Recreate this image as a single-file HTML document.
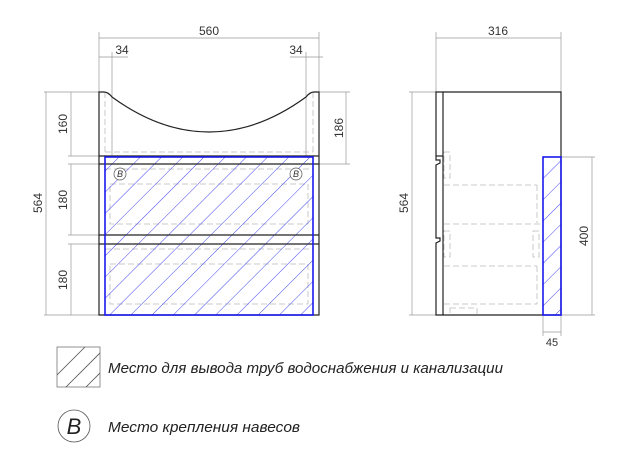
<!DOCTYPE html>
<html><head><meta charset="utf-8"><style>html,body{margin:0;padding:0;background:#fff}svg{display:block}</style></head><body>
<svg width="630" height="470" viewBox="0 0 630 470" xmlns="http://www.w3.org/2000/svg" font-family="Liberation Sans, sans-serif">
<defs>
<pattern id="h" patternUnits="userSpaceOnUse" width="15" height="15" patternTransform="rotate(45)">
<line x1="0" y1="0" x2="0" y2="15" stroke="#3333ee" stroke-width="0.9"/>
</pattern>
<clipPath id="c1"><rect x="57" y="347" width="43" height="40"/></clipPath>
</defs>
<g stroke="#999" stroke-width="0.7" fill="none">
<line x1="99" y1="32" x2="99" y2="92"/><line x1="319" y1="32" x2="319" y2="92"/>
<line x1="99" y1="38" x2="319" y2="38"/>
<line x1="112" y1="52" x2="112" y2="157"/><line x1="306" y1="52" x2="306" y2="157"/>
<line x1="99" y1="57" x2="128" y2="57"/><line x1="290" y1="57" x2="323" y2="57"/>
<line x1="44" y1="92" x2="99" y2="92"/><line x1="44" y1="315" x2="99" y2="315"/>
<line x1="46" y1="92" x2="46" y2="315"/>
<line x1="68" y1="156" x2="99" y2="156"/><line x1="68" y1="164" x2="99" y2="164"/>
<line x1="68" y1="235" x2="99" y2="235"/><line x1="68" y1="244" x2="99" y2="244"/>
<line x1="71" y1="92" x2="71" y2="156"/><line x1="71" y1="164" x2="71" y2="235"/><line x1="71" y1="244" x2="71" y2="315"/>
<line x1="319" y1="92" x2="350" y2="92"/><line x1="319" y1="164" x2="350" y2="164"/>
<line x1="346" y1="92" x2="346" y2="164"/>
<line x1="436" y1="32" x2="436" y2="92"/><line x1="561" y1="32" x2="561" y2="92"/>
<line x1="436" y1="38" x2="561" y2="38"/>
<line x1="409" y1="92" x2="436" y2="92"/><line x1="409" y1="315" x2="436" y2="315"/>
<line x1="412" y1="92" x2="412" y2="315"/>
<line x1="561" y1="157" x2="595" y2="157"/><line x1="561" y1="315" x2="595" y2="315"/>
<line x1="592" y1="157" x2="592" y2="315"/>
<line x1="543" y1="315" x2="543" y2="336"/><line x1="561" y1="315" x2="561" y2="336"/>
<line x1="543" y1="332" x2="561" y2="332"/>
</g>
<g stroke="#bbb" stroke-width="0.8" fill="none" stroke-dasharray="6,3">
<line x1="105" y1="92" x2="105" y2="156"/><line x1="313" y1="92" x2="313" y2="156"/>
<line x1="105" y1="152" x2="313" y2="152"/>
<line x1="105" y1="169" x2="313" y2="169"/>
<rect x="110" y="184" width="198" height="40"/>
<line x1="105" y1="249" x2="313" y2="249"/>
<rect x="110" y="264" width="198" height="40"/>
<rect x="444" y="152" width="6" height="26"/>
<rect x="444" y="231" width="6" height="26"/>
<rect x="533" y="231" width="6" height="26"/>
<line x1="444" y1="185" x2="537" y2="185"/><line x1="537" y1="185" x2="537" y2="223"/>
<line x1="444" y1="224" x2="543" y2="224"/>
<line x1="444" y1="266" x2="537" y2="266"/><line x1="537" y1="266" x2="537" y2="304"/>
<line x1="444" y1="304" x2="537" y2="304"/>
<rect x="450" y="308" width="27" height="7"/>
</g>
<rect x="105" y="157" width="208" height="158" fill="url(#h)"/>
<g stroke="#222" stroke-width="1.2" fill="none">
<path d="M99 315 V92 H104 Q108 92 112 97 Q160 132 209 132 Q258 132 306 97 Q310 92 314 92 H319 V315 Z"/>
<line x1="99" y1="156" x2="319" y2="156"/><line x1="99" y1="164" x2="319" y2="164"/>
<line x1="99" y1="235" x2="319" y2="235"/><line x1="99" y1="244" x2="319" y2="244"/>
</g>
<rect x="105" y="157" width="208" height="158" fill="none" stroke="#1a1aee" stroke-width="1.6"/>
<g stroke="#555" stroke-width="0.7" fill="#fff">
<circle cx="120" cy="174" r="6"/><circle cx="296" cy="174" r="6"/>
</g>
<g font-size="9" font-style="italic" fill="#333" text-anchor="middle">
<text x="120" y="177">B</text><text x="296" y="177">B</text>
</g>
<rect x="543" y="157" width="18" height="158" fill="url(#h)"/>
<g stroke="#222" stroke-width="1.2" fill="none">
<path d="M443 92 H561 V315 H443"/>
<path d="M436 92 H443 V315 H436 V243 L440 241 V238 H436 V165 L440 163 V160 H436 Z"/>
<line x1="436" y1="156" x2="443" y2="156"/>
</g>
<rect x="543" y="157" width="18" height="158" fill="none" stroke="#1a1aee" stroke-width="1.6"/>
<g font-size="12" fill="#333" text-anchor="middle">
<text x="209" y="35">560</text>
<text x="122" y="54">34</text>
<text x="296" y="54">34</text>
<text x="498" y="35">316</text>
<text x="552" y="346" font-size="11">45</text>
<text transform="translate(42,203) rotate(-90)">564</text>
<text transform="translate(67,124) rotate(-90)">160</text>
<text transform="translate(67,200) rotate(-90)">180</text>
<text transform="translate(67,280) rotate(-90)">180</text>
<text transform="translate(343,128) rotate(-90)">186</text>
<text transform="translate(408,203) rotate(-90)">564</text>
<text transform="translate(588,236) rotate(-90)">400</text>
</g>
<rect x="57" y="347" width="43" height="40" fill="none" stroke="#777" stroke-width="0.8"/>
<g clip-path="url(#c1)" stroke="#555" stroke-width="0.8">
<line x1="57" y1="375" x2="85" y2="347"/><line x1="64" y1="389" x2="102" y2="351"/><line x1="84" y1="389" x2="102" y2="371"/>
</g>
<circle cx="74" cy="426" r="16" fill="none" stroke="#555" stroke-width="0.8"/>
<text x="74" y="434" font-size="22" font-style="italic" fill="#222" text-anchor="middle">B</text>
<g font-size="15" font-style="italic" fill="#222">
<text x="108" y="373" textLength="395" lengthAdjust="spacingAndGlyphs">Место для вывода труб водоснабжения и канализации</text>
<text x="108" y="432" textLength="192" lengthAdjust="spacingAndGlyphs">Место крепления навесов</text>
</g>
</svg>
</body></html>
